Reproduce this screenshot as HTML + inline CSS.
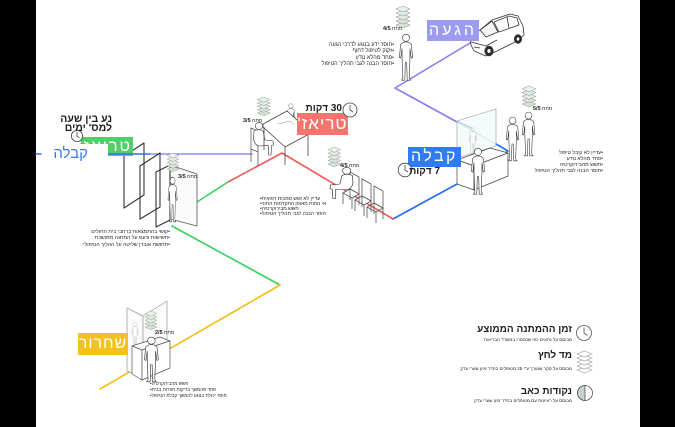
<!DOCTYPE html>
<html><head><meta charset="utf-8">
<style>
body{margin:0;}
#w{position:relative;width:675px;height:427px;overflow:hidden;background:#fff;font-family:"Liberation Sans","DejaVu Sans",sans-serif;}
svg{position:absolute;left:0;top:0}
.t{position:absolute;white-space:nowrap;color:#1e1e1e;}
.rt{direction:rtl;text-align:right;}
.lt{direction:ltr;text-align:left;}
.b{font-weight:bold;}
.box{position:absolute;color:#fff;direction:rtl;text-align:center;white-space:nowrap;font-size:16px;}
.lab{position:absolute;white-space:nowrap;direction:ltr;font-size:5px;color:#222;}
.lab b{font-size:5.5px}
</style></head><body><div id="w">
<svg width="675" height="427" viewBox="0 0 675 427">
<defs>
<g id="stk" stroke="#859585" stroke-width=".5">
<polygon points="0,19 7,16 14,19 7,22" fill="#d8e3d8"/>
<polygon points="0,15 7,12 14,15 7,18" fill="#d8e3d8"/>
<polygon points="0,11 7,8 14,11 7,14" fill="#e4ebe4"/>
<polygon points="0,7 7,4 14,7 7,10" fill="#e4ebe4"/>
<polygon points="0,3 7,0 14,3 7,6" fill="#eef2ee"/>
</g>
<g id="stk2" stroke="#9a9a9a" stroke-width=".6" fill="#fff">
<polygon points="0,20 7.5,17 15,20 7.5,23"/>
<polygon points="0,16 7.5,13 15,16 7.5,19"/>
<polygon points="0,12 7.5,9 15,12 7.5,15"/>
<polygon points="0,8 7.5,5 15,8 7.5,11"/>
<polygon points="0,4 7.5,1 15,4 7.5,7"/>
</g>
<g id="man" fill="#fff" stroke="#333" stroke-width=".6">
<path d="M4.6,9.6 Q8,8.2 11.4,9.6 L13.4,11.5 L14.6,24.5 L13.2,25.2 L12,15.5 L11.9,26.5 L11.2,45 L12.6,47.2 L9.2,47.2 L8.7,29.5 L7.3,29.5 L6.8,47.2 L3.4,47.2 L4.8,45 L4.1,26.5 L4,15.5 L2.8,25.2 L1.4,24.5 L2.6,11.5 Z"/>
<circle cx="8" cy="4.8" r="3.6"/>
</g>
<g id="sit" fill="#fff" stroke="#333" stroke-width=".6">
<path d="M4,10 Q9,7.5 13,10 L15,19 L23,20 L23.5,24 L21.5,24.5 L21,34 L18.5,34 L18.5,24.5 L9,25 Q4,24 3.5,17 Z"/>
<circle cx="9" cy="5" r="3.6"/>
</g>
</defs>

<rect x="0" y="0" width="36" height="427" fill="#000"/>
<rect x="640" y="0" width="35" height="427" fill="#000"/>

<g fill="none" stroke-width="1.6" stroke-linejoin="round" stroke-linecap="round">
<path d="M470,43 L395,88 L457,122" stroke="#7f7ff2"/>
<path d="M457,122 L496,144" stroke="#86e3f2" stroke-width="1.1"/>
<path d="M496,144 L508,151 L497,158" stroke="#1f6ef5"/>
<path d="M393,219 L457,184" stroke="#1f6ef5"/>
<path d="M228,182 L282,153 L393,219" stroke="#f25a55"/>
<path d="M197,202 L228,182" stroke="#36d05c"/>
<path d="M172,226 L280,285" stroke="#36d05c"/>
<path d="M280,285 L100,389" stroke="#f5bd12"/>
<path d="M36,154 L41,154" stroke="#3a6cf0"/>
<path d="M150,154 L252,154" stroke="#8e8ef0"/>
</g>

<g fill="#fff" stroke="#333" stroke-width=".8" stroke-linejoin="round">
<path d="M470,38 L480,30 L492,20 L510,14 L518,16 L523,26 L524,35 L517,41 L497,51 L486,56 L474,51 L471,45 Z"/>
<path d="M480,30 L492,21 L498,32 L486,37 Z" fill="#f4f4f4"/>
<path d="M494,22 L509,16 L517,18 L519,25 L499,32 Z"/>
<path d="M507,17 L509,28" />
<path d="M471,42 L486,46 L497,40"/>
<path d="M474,47 L480,48"/>
<ellipse cx="489" cy="51" rx="4.2" ry="4.8" fill="#2a2a2a"/>
<ellipse cx="489" cy="51" rx="2" ry="2.4"/>
<ellipse cx="518" cy="39" rx="3.6" ry="4.3" fill="#2a2a2a"/>
<ellipse cx="518" cy="39" rx="1.7" ry="2"/>
</g>

<use href="#man" transform="translate(398,33)"/>

<g fill="none" stroke="#444" stroke-width=".7">
<polygon points="251,128 258,131 258,152 251,149" fill="#fff"/>
<line x1="251" y1="149" x2="251" y2="162"/>
<line x1="258" y1="152" x2="258" y2="166"/>
</g>
<use href="#sit" transform="translate(250,121)"/>
<use href="#man" transform="translate(286,103) scale(.62)"/>
<g fill="#fff" stroke="#444" stroke-width=".8" stroke-linejoin="round">
<polygon points="263,124 287,111 309,131 285,144"/>
<path d="M263,124 L263,127 L285,147 L309,134 L309,131" />
<line x1="264" y1="127" x2="264" y2="150"/>
<line x1="285" y1="147" x2="285" y2="165"/>
<line x1="308" y1="134" x2="308" y2="156"/>
<path d="M278,124 L290,121 L294,125" stroke="#888" stroke-width=".5" fill="none"/>
</g>

<g fill="none" stroke="#555" stroke-width=".8">
<g transform="translate(374,186)">
<polygon points="0,0 9,5 9,22 0,17"/><polygon points="0,17 9,22 2,26 -7,21"/>
<path d="M-7,21 V32 M2,26 V37 M9,22 V33 M0,17 V28"/></g>
<g transform="translate(362,179)">
<polygon points="0,0 9,5 9,22 0,17" fill="#fff"/><polygon points="0,17 9,22 2,26 -7,21" fill="#fff"/>
<path d="M-7,21 V32 M2,26 V37 M9,22 V33 M0,17 V28"/></g>
<g transform="translate(350,172)">
<polygon points="0,0 9,5 9,22 0,17" fill="#fff"/><polygon points="0,17 9,22 2,26 -7,21" fill="#fff"/>
<path d="M-7,21 V32 M2,26 V37 M9,22 V33 M0,17 V28"/></g>
</g>
<use href="#sit" transform="translate(357,166) scale(-1.15,.95)"/>

<polygon points="457,121 496,109 496,146 457,158" fill="#eef6f8" fill-opacity=".6" stroke="#999" stroke-width=".6"/>
<line x1="457" y1="121" x2="473" y2="129" stroke="#999" stroke-width=".6"/>
<use href="#man" transform="translate(468,126) scale(.6)" opacity=".35"/>
<g fill="#fff" stroke="#444" stroke-width=".7" stroke-linejoin="round">
<polygon points="457,160 490,148 508,153 474,166"/>
<polygon points="457,160 474,166 474,190 457,184"/>
<polygon points="474,166 508,153 508,176 474,190"/>
</g>
<use href="#man" transform="translate(470,147)"/>
<use href="#man" transform="translate(505,116) scale(.95)"/>
<use href="#man" transform="translate(521,111) scale(.95)"/>

<g fill="none" stroke="#333" stroke-width="1.1" stroke-linejoin="round">
<polygon points="124,156 144,143 144,195 124,208"/>
<polygon points="140,166 160,153 160,207 140,219"/>
<polygon points="170,165 197,174 197,226 170,219" stroke="#555" stroke-width=".8" fill="#fafafa"/>
<polygon points="156,172 170,165 170,220 156,227"/>
</g>
<path d="M108,154 L150,154" stroke="#3a6cf0" stroke-width="1.6"/>
<use href="#man" transform="translate(167,176) scale(.7,.97)"/>

<g fill="#fbfbfb" stroke="#999" stroke-width=".7" stroke-linejoin="round">
<polygon points="127,308 143,316 143,378 127,371"/>
<polygon points="143,316 167,301 167,363 143,378"/>
</g>
<use href="#man" transform="translate(131,322) scale(.5)" opacity=".4"/>
<g fill="#fff" stroke="#555" stroke-width=".7" stroke-linejoin="round">
<polygon points="132,346 160,337 170,341 142,350"/>
<polygon points="132,346 142,350 142,380 132,374"/>
<polygon points="142,350 170,341 170,368 142,380"/>
</g>
<use href="#man" transform="translate(143,336) scale(1.05,.97)"/>

<use href="#stk" transform="translate(396,6)"/>
<use href="#stk" transform="translate(257,97) scale(.95,.85)"/>
<use href="#stk" transform="translate(328,147) scale(.9)"/>
<use href="#stk" transform="translate(522,86) scale(1,.95)"/>
<use href="#stk" transform="translate(167,153) scale(.85)"/>
<use href="#stk" transform="translate(145,311) scale(.85)"/>

<rect x="427" y="20" width="52" height="21" fill="#9b9bf0"/>
<rect x="297" y="113" width="51" height="22" fill="#f4756d"/>
<rect x="408" y="147" width="53" height="20" fill="#2e7cf6"/>
<rect x="78" y="333" width="50" height="22" fill="#f5c21b"/>
<rect x="80" y="137" width="53" height="19" fill="#4cd16b"/>

<g fill="#fff" stroke="#444" stroke-width=".8">
<circle cx="350" cy="110" r="7"/><path d="M350,105 V110 L353,112" fill="none"/>
<circle cx="405" cy="170" r="6.8"/><path d="M405,165 V170 L408,172" fill="none"/>
<circle cx="584" cy="333" r="7.5" stroke="#555"/><path d="M584,327.5 V333 L587.5,335.5" fill="none" stroke="#555"/>
<circle cx="585" cy="393" r="7.5" stroke="#555"/>
<path d="M585,385.5 A7.5,7.5 0 0 0 585,400.5 Z" fill="#c5d3cf" stroke="#555"/>
</g>
<use href="#stk2" transform="translate(577,350)"/>
</svg>

<div class="box" style="left:80px;top:137px;width:52px;height:19px;line-height:19px;text-align:right;letter-spacing:2px;">טריאז'</div>
<div style="position:absolute;left:56px;top:144px;width:52px;height:19px;background:#fff"></div>
<svg width="675" height="427" style="position:absolute;left:0;top:0;pointer-events:none">
<path d="M108,154 L133,154" stroke="#3a6cf0" stroke-width="1.6"/>
<circle cx="77" cy="136" r="5.6" fill="#fff" stroke="#444" stroke-width=".8"/>
<path d="M77,132 V136 L79.5,138" fill="none" stroke="#444" stroke-width=".8"/>
</svg>
<div class="t rt b" style="right:563px;top:113px;font-size:10.5px;line-height:12px;">נע בין שעה</div>
<div class="t rt b" style="right:563px;top:123px;font-size:10.5px;line-height:11px;">למס' ימים</div>
<div class="t rt" style="right:587px;top:146px;font-size:15px;line-height:16px;color:#3a78f0;">קבלה</div>

<div class="box" style="left:427px;top:20px;width:52px;height:21px;line-height:21px;letter-spacing:3px;">הגעה</div>
<div class="box" style="left:297px;top:113px;width:51px;height:22px;line-height:22px;font-size:17px;letter-spacing:1px;">טריאז'</div>
<div class="box" style="left:408px;top:147px;width:53px;height:20px;line-height:20px;letter-spacing:2.5px;">קבלה</div>
<div class="box" style="left:78px;top:333px;width:50px;height:22px;line-height:22px;letter-spacing:1px;">שחרור</div>

<div class="t rt b" style="right:333px;top:103px;font-size:10px;line-height:11px;">30 דקות</div>
<div class="t rt b" style="right:235px;top:166px;font-size:10px;line-height:11px;">7 דקות</div>

<div class="lab" style="left:383px;top:26px;"><b>4/5</b> מתח</div>
<div class="lab" style="left:243px;top:118px;"><b>3/5</b> מתח</div>
<div class="lab" style="left:340px;top:163px;"><b>4/5</b> מתח</div>
<div class="lab" style="left:533px;top:106px;"><b>5/5</b> מתח</div>
<div class="lab" style="left:178px;top:174px;"><b>3/5</b> מתח</div>
<div class="lab" style="left:155px;top:330px;"><b>2/5</b> מתח</div>

<div class="t rt" style="right:281px;top:41.75px;font-size:5.5px;line-height:6.5px;">•חוסר ידע בנוגע לדרכי הגעה<br>•זקוק לטיפול דחוף<br>•פחד מהלא נודע<br>•חוסר הבנה לגבי תהליך הטיפול</div>
<div class="t rt" style="right:505px;top:228.6px;font-size:5.2px;line-height:6.8px;">•קושי בהתמצאות ברחבי בית החולים<br>•תשישות וכעס על המתנה ממושכת<br>•תחושת אובדן שליטה על ההליך הטיפולי</div>
<div class="t lt" style="left:260px;top:196.5px;font-size:5px;line-height:5px;">•עדיין לא פגש סמכות רפואית<br>•אי נוחות מאופן התקדמות התור<br>•חשש מבירוקרטיה<br>•חוסר הבנה לגבי תהליך הטיפול</div>
<div class="t rt" style="right:72px;top:150px;font-size:5.2px;line-height:6px;">•עדיין לא קיבל טיפול<br>•פחד מהלא נודע<br>•חשש מהבירוקרטיה<br>•חוסר הבנה לגבי תהליך הטיפול</div>
<div class="t lt" style="left:150px;top:381px;font-size:4.6px;line-height:6px;">•חשש מהבירוקרטיה<br>•פחד מהמשך בדיקות חוזרות בבית<br>•חוסר יכולת בנוגע להמשך קבלת הטיפול</div>

<div class="t rt b" style="right:103px;top:324px;font-size:10px;line-height:12px;">זמן ההמתנה הממוצע</div>
<div class="t rt" style="right:103px;top:337px;font-size:4.5px;line-height:5px;">מבוסס על נתונים כפי שנמסרו במשרד הבריאות</div>
<div class="t rt b" style="right:103px;top:350px;font-size:10px;line-height:12px;">מד לחץ</div>
<div class="t rt" style="right:103px;top:365.5px;font-size:4.5px;line-height:5px;">מבוסס על סקר שנערך ע"י 25 מטופלים בחדר מיון שערי צדק</div>
<div class="t rt b" style="right:103px;top:386px;font-size:10px;line-height:12px;">נקודות כאב</div>
<div class="t rt" style="right:103px;top:397.5px;font-size:4.5px;line-height:5px;">מבוסס על ראיונות עם מטופלים בחדר מיון שערי צדק</div>
</div></body></html>
